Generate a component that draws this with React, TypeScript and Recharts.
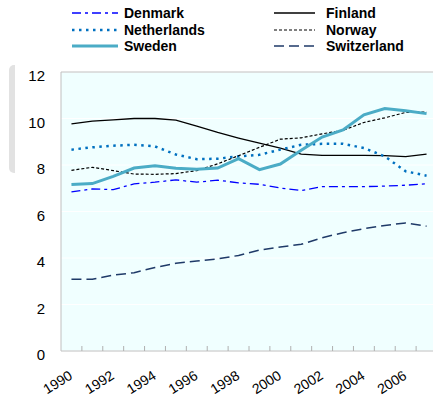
import { LineChart, Line, XAxis, YAxis, CartesianGrid, Legend, ReferenceLine } from 'recharts';

const years = [1990, 1991, 1992, 1993, 1994, 1995, 1996, 1997, 1998, 1999, 2000, 2001, 2002, 2003, 2004, 2005, 2006, 2007];
const denmark = [6.84, 6.97, 6.94, 7.19, 7.26, 7.36, 7.26, 7.35, 7.23, 7.17, 7.01, 6.9, 7.07, 7.07, 7.07, 7.09, 7.13, 7.19];
const finland = [9.77, 9.89, 9.94, 10.0, 10.0, 9.93, 9.67, 9.4, 9.16, 8.94, 8.73, 8.47, 8.41, 8.41, 8.41, 8.4, 8.36, 8.47];
const netherlands = [8.66, 8.76, 8.83, 8.87, 8.8, 8.45, 8.25, 8.27, 8.37, 8.44, 8.66, 8.87, 8.91, 8.91, 8.73, 8.37, 7.73, 7.54];
const norway = [7.77, 7.9, 7.76, 7.61, 7.6, 7.63, 7.76, 8.05, 8.4, 8.76, 9.11, 9.17, 9.34, 9.49, 9.83, 10.03, 10.26, 10.28];
const sweden = [7.16, 7.2, 7.51, 7.87, 7.97, 7.86, 7.82, 7.87, 8.27, 7.8, 8.04, 8.63, 9.2, 9.51, 10.16, 10.43, 10.33, 10.21];
const switzerland = [3.09, 3.09, 3.26, 3.37, 3.59, 3.77, 3.87, 3.96, 4.11, 4.34, 4.47, 4.59, 4.87, 5.09, 5.26, 5.4, 5.51, 5.37];
const yTicks = [0, 2, 4, 6, 8, 10, 12];

const data = years.map((year, i) => ({
  year,
  Denmark: denmark[i],
  Finland: finland[i],
  Netherlands: netherlands[i],
  Norway: norway[i],
  Sweden: sweden[i],
  Switzerland: switzerland[i],
}));

// legend order: row by row, two columns
const series = [
  { key: 'Denmark', color: '#0000ff', width: 1.3, dash: '9 4 3 4' },
  { key: 'Finland', color: '#000000', width: 1.3, dash: undefined },
  { key: 'Netherlands', color: '#0070c0', width: 2.5, dash: '2.5 4.5' },
  { key: 'Norway', color: '#000000', width: 1.2, dash: '3 2' },
  { key: 'Sweden', color: '#4bacc6', width: 3, dash: undefined },
  { key: 'Switzerland', color: '#1f3a68', width: 1.5, dash: '10 5' },
];

const labelYears = years.filter((y) => y % 2 === 0);
const boundaries = years.slice(0, -1).map((y) => y + 0.5);
const font = 'Arial, "Liberation Sans", sans-serif';

function LegendBox() {
  return (
    <div style={{ position: 'relative', width: 433, height: 56, fontFamily: font, fontWeight: 'bold', fontSize: 14 }}>
      {series.map((s, i) => {
        const col = i % 2;
        const row = Math.floor(i / 2);
        const left = col === 0 ? 72 : 274;
        const lineW = col === 0 ? 46 : 41;
        const top = 13 + row * 16.7;
        return (
          <div key={s.key} style={{ position: 'absolute', left, top: top - 8, height: 16, display: 'flex', alignItems: 'center', whiteSpace: 'nowrap' }}>
            <svg width={lineW} height={6} style={{ display: 'block' }}>
              <line x1={0} y1={3} x2={lineW} y2={3} stroke={s.color} strokeWidth={s.width} strokeDasharray={s.dash} />
            </svg>
            <span style={{ marginLeft: col === 0 ? 6 : 11, color: '#000' }}>{s.key}</span>
          </div>
        );
      })}
    </div>
  );
}

function XTick(props: any) {
  const { x, y, payload } = props;
  if (!Number.isInteger(payload.value)) {
    return <line x1={x} x2={x} y1={y - 5} y2={y} stroke="#b0b0b0" strokeWidth={1} />;
  }
  return (
    <text
      x={0}
      y={0}
      transform={`translate(${x + 2},${y + 27}) rotate(-32)`}
      textAnchor="end"
      fontSize={14}
      fontFamily={font}
      fill="#000"
    >
      {payload.value}
    </text>
  );
}

function YTick(props: any) {
  const { x, y, payload } = props;
  return (
    <text x={x} y={y + 9} textAnchor="end" fontSize={15} fontFamily={font} fill="#000">
      {payload.value}
    </text>
  );
}

export default function App() {
  return (
    <div style={{ position: 'absolute', left: 0, top: 0, width: 433, height: 401, overflow: 'hidden', background: '#fff' }}>
      <div style={{ position: 'absolute', left: 9, top: 65, width: 6, height: 108, background: '#e2e2e2', borderRadius: '5px 0 0 5px' }} />
      <LineChart width={437} height={401} data={data} margin={{ top: 16, right: 0, left: 0, bottom: 0 }}>
        <CartesianGrid horizontal vertical={false} fill="#f0ffff" stroke="#ffffff" />
        <XAxis
          dataKey="year"
          type="number"
          domain={[years[0] - 0.5, years[years.length - 1] + 0.5]}
          ticks={[...labelYears, ...boundaries]}
          interval={0}
          tick={<XTick />}
          tickLine={false}
          tickSize={0}
          tickMargin={0}
          height={50}
          axisLine={{ stroke: '#c0c0c0' }}
        />
        <YAxis
          domain={[0, 12]}
          ticks={yTicks}
          width={61}
          tick={<YTick />}
          tickLine={false}
          tickSize={0}
          tickMargin={16}
          axisLine={{ stroke: '#c0c0c0' }}
        />
        <ReferenceLine y={12} stroke="#c0c0c0" />
        <Legend verticalAlign="top" content={() => <LegendBox />} wrapperStyle={{ top: 0, left: 0, width: 433, height: 56 }} />
        {series.map((s) => (
          <Line
            key={s.key}
            dataKey={s.key}
            type="linear"
            stroke={s.color}
            strokeWidth={s.width}
            strokeDasharray={s.dash}
            dot={false}
            activeDot={false}
            isAnimationActive={false}
          />
        ))}
      </LineChart>
    </div>
  );
}
